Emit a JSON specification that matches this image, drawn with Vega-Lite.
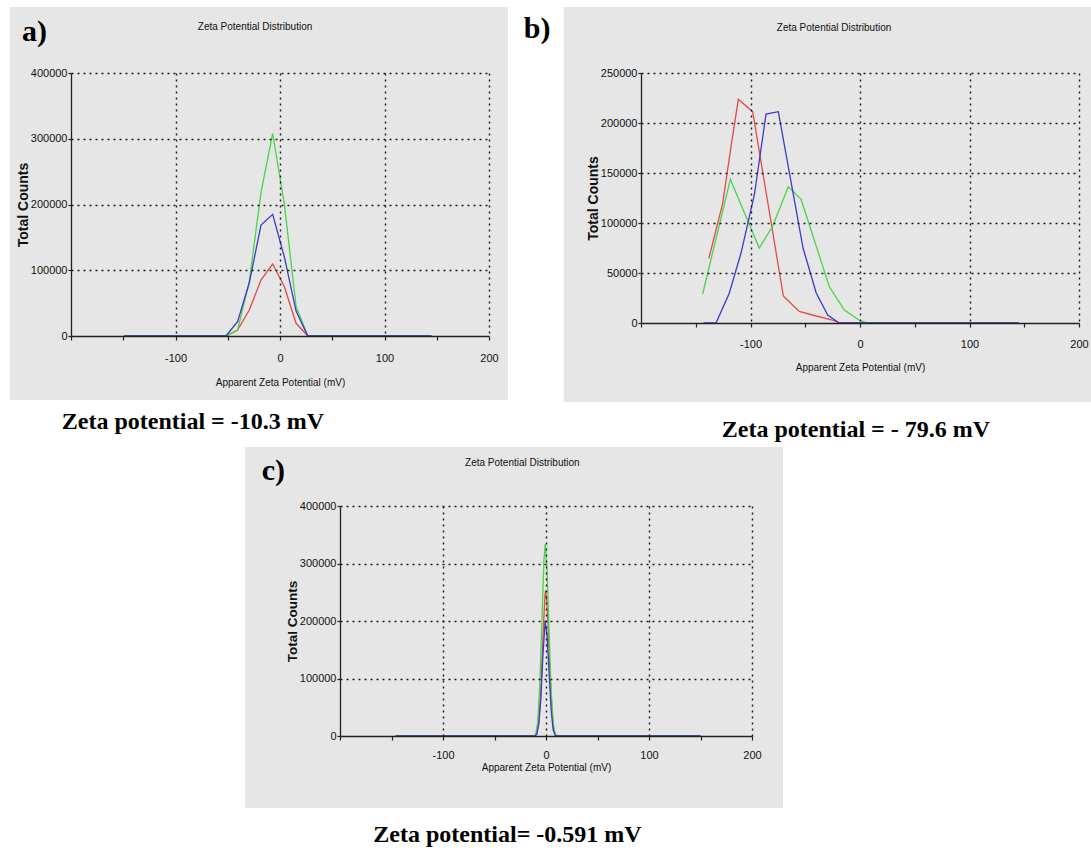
{
  "$schema": "https://vega.github.io/schema/vega-lite/v6.json",
  "background": "white",
  "padding": {"left": 9, "top": 7, "right": 0, "bottom": 0},
  "autosize": {"type": "pad"},
  "config": {
    "view": {"stroke": null},
    "axis": {
      "grid": true, "gridColor": "#1a1a1a", "gridDash": [2, 4], "gridWidth": 1.4,
      "domainColor": "#222", "domainWidth": 1.3, "tickColor": "#222", "tickWidth": 1.2,
      "labelFont": "Liberation Sans, Arial, sans-serif", "labelFontSize": 11, "labelColor": "#111",
      "titleFont": "Liberation Sans, Arial, sans-serif", "titleFontSize": 10, "titleFontWeight": "normal", "titleColor": "#111",
      "labelFlush": false, "labelOverlap": false, "zindex": 1
    },
    "axisY": {"titleFont": "Liberation Sans, Arial, sans-serif", "titleFontWeight": "bold", "titleFontSize": 14}
  },
  "datasets": {
    "a": [
      {"run": "Record 1", "mV": -149, "counts": 0}, {"run": "Record 1", "mV": -51.8, "counts": 0}, {"run": "Record 1", "mV": -40.6, "counts": 9000}, {"run": "Record 1", "mV": -29.4, "counts": 39500}, {"run": "Record 1", "mV": -18.2, "counts": 85000}, {"run": "Record 1", "mV": -7, "counts": 109500}, {"run": "Record 1", "mV": 4.2, "counts": 75000}, {"run": "Record 1", "mV": 15.4, "counts": 19300}, {"run": "Record 1", "mV": 26.6, "counts": 0}, {"run": "Record 1", "mV": 145, "counts": 0},
      {"run": "Record 2", "mV": -149, "counts": 0}, {"run": "Record 2", "mV": -51.8, "counts": 0}, {"run": "Record 2", "mV": -40.6, "counts": 9000}, {"run": "Record 2", "mV": -29.4, "counts": 83000}, {"run": "Record 2", "mV": -18.2, "counts": 218000}, {"run": "Record 2", "mV": -7, "counts": 308000}, {"run": "Record 2", "mV": 4.2, "counts": 200000}, {"run": "Record 2", "mV": 15.4, "counts": 45000}, {"run": "Record 2", "mV": 26.6, "counts": 0}, {"run": "Record 2", "mV": 145, "counts": 0},
      {"run": "Record 3", "mV": -149, "counts": 0}, {"run": "Record 3", "mV": -51.8, "counts": 0}, {"run": "Record 3", "mV": -40.6, "counts": 21800}, {"run": "Record 3", "mV": -29.4, "counts": 80600}, {"run": "Record 3", "mV": -18.2, "counts": 168800}, {"run": "Record 3", "mV": -7, "counts": 185000}, {"run": "Record 3", "mV": 4.2, "counts": 120000}, {"run": "Record 3", "mV": 15.4, "counts": 38000}, {"run": "Record 3", "mV": 26.6, "counts": 0}, {"run": "Record 3", "mV": 145, "counts": 0}
    ],
    "b": [
      {"run": "Record 1", "mV": -138, "counts": 64700}, {"run": "Record 1", "mV": -125.4, "counts": 119700}, {"run": "Record 1", "mV": -117.8, "counts": 176300}, {"run": "Record 1", "mV": -111.1, "counts": 223700}, {"run": "Record 1", "mV": -98, "counts": 211300}, {"run": "Record 1", "mV": -70, "counts": 27000}, {"run": "Record 1", "mV": -55.5, "counts": 11500}, {"run": "Record 1", "mV": -41.7, "counts": 7500}, {"run": "Record 1", "mV": -27, "counts": 3500}, {"run": "Record 1", "mV": -18, "counts": 0}, {"run": "Record 1", "mV": 145, "counts": 0},
      {"run": "Record 2", "mV": -143.7, "counts": 29000}, {"run": "Record 2", "mV": -118.4, "counts": 143700}, {"run": "Record 2", "mV": -92, "counts": 75000}, {"run": "Record 2", "mV": -79.7, "counts": 97000}, {"run": "Record 2", "mV": -65.5, "counts": 136300}, {"run": "Record 2", "mV": -53.9, "counts": 124000}, {"run": "Record 2", "mV": -28, "counts": 36300}, {"run": "Record 2", "mV": -14.3, "counts": 13000}, {"run": "Record 2", "mV": -1, "counts": 3000}, {"run": "Record 2", "mV": 7, "counts": 0}, {"run": "Record 2", "mV": 145, "counts": 0},
      {"run": "Record 3", "mV": -143, "counts": 0}, {"run": "Record 3", "mV": -131.5, "counts": 0}, {"run": "Record 3", "mV": -119.4, "counts": 29700}, {"run": "Record 3", "mV": -108.7, "counts": 69700}, {"run": "Record 3", "mV": -96.5, "counts": 128000}, {"run": "Record 3", "mV": -85.8, "counts": 209000}, {"run": "Record 3", "mV": -74.6, "counts": 211300}, {"run": "Record 3", "mV": -52, "counts": 75000}, {"run": "Record 3", "mV": -40, "counts": 30000}, {"run": "Record 3", "mV": -29.5, "counts": 8000}, {"run": "Record 3", "mV": -19, "counts": 0}, {"run": "Record 3", "mV": 145, "counts": 0}
    ],
    "c": [
      {"run": "Record 1", "mV": -146, "counts": 0}, {"run": "Record 1", "mV": -11, "counts": 0}, {"run": "Record 1", "mV": -9, "counts": 4000}, {"run": "Record 1", "mV": -7, "counts": 25000}, {"run": "Record 1", "mV": -5, "counts": 80000}, {"run": "Record 1", "mV": -3, "counts": 170000}, {"run": "Record 1", "mV": -1, "counts": 245000}, {"run": "Record 1", "mV": -0.5, "counts": 253000}, {"run": "Record 1", "mV": 1, "counts": 230000}, {"run": "Record 1", "mV": 3, "counts": 150000}, {"run": "Record 1", "mV": 5, "counts": 65000}, {"run": "Record 1", "mV": 7, "counts": 18000}, {"run": "Record 1", "mV": 9, "counts": 2000}, {"run": "Record 1", "mV": 11, "counts": 0}, {"run": "Record 1", "mV": 150, "counts": 0},
      {"run": "Record 2", "mV": -146, "counts": 0}, {"run": "Record 2", "mV": -12, "counts": 0}, {"run": "Record 2", "mV": -10, "counts": 2000}, {"run": "Record 2", "mV": -8, "counts": 25000}, {"run": "Record 2", "mV": -6, "counts": 90000}, {"run": "Record 2", "mV": -4, "counts": 200000}, {"run": "Record 2", "mV": -2, "counts": 305000}, {"run": "Record 2", "mV": -0.7, "counts": 334000}, {"run": "Record 2", "mV": 1, "counts": 290000}, {"run": "Record 2", "mV": 3, "counts": 180000}, {"run": "Record 2", "mV": 5, "counts": 80000}, {"run": "Record 2", "mV": 7, "counts": 22000}, {"run": "Record 2", "mV": 9, "counts": 3000}, {"run": "Record 2", "mV": 11, "counts": 0}, {"run": "Record 2", "mV": 150, "counts": 0},
      {"run": "Record 3", "mV": -146, "counts": 0}, {"run": "Record 3", "mV": -11, "counts": 0}, {"run": "Record 3", "mV": -9, "counts": 3000}, {"run": "Record 3", "mV": -7, "counts": 20000}, {"run": "Record 3", "mV": -5, "counts": 65000}, {"run": "Record 3", "mV": -3, "counts": 140000}, {"run": "Record 3", "mV": -1, "counts": 195000}, {"run": "Record 3", "mV": -0.8, "counts": 198000}, {"run": "Record 3", "mV": 1, "counts": 175000}, {"run": "Record 3", "mV": 3, "counts": 110000}, {"run": "Record 3", "mV": 5, "counts": 45000}, {"run": "Record 3", "mV": 7, "counts": 10000}, {"run": "Record 3", "mV": 9, "counts": 1000}, {"run": "Record 3", "mV": 11, "counts": 0}, {"run": "Record 3", "mV": 150, "counts": 0}
    ]
  },
  "vconcat": [
    {
      "hconcat": [
        {
          "width": 418, "height": 263,
          "layer": [
            {"data": {"values": [{}]}, "mark": {"type": "rect", "color": "#e6e6e6"},
             "encoding": {"x": {"datum": -258.4, "type": "quantitative", "scale": {"domain": [-200, 200], "nice": false, "zero": false}}, "x2": {"datum": 218.2}, "y": {"datum": 500376, "type": "quantitative", "scale": {"domain": [0, 400000], "nice": false}}, "y2": {"datum": -97340}}},
            {"data": {"name": "a"}, "mark": {"type": "line", "strokeWidth": 1.3},
             "encoding": {
               "x": {"field": "mV", "type": "quantitative", "scale": {"domain": [-200, 200], "nice": false, "zero": false},
                     "axis": {"zindex": 2, "values": [-200, -150, -100, -50, 0, 50, 100, 150, 200], "labelExpr": "(datum.value % 100 === 0 && datum.value > -200) ? toString(datum.value) : ''", "gridOpacity": {"condition": {"test": "datum.value % 100 === 0 && datum.value > -200", "value": 1}, "value": 0}, "title": "Apparent Zeta Potential (mV)", "tickSize": 4, "labelPadding": 12, "titlePadding": 14}},
               "y": {"field": "counts", "type": "quantitative", "scale": {"domain": [0, 400000], "nice": false},
                     "axis": {"zindex": 2, "values": [0, 50000, 100000, 150000, 200000, 250000, 300000, 350000, 400000], "format": "d", "labelExpr": "datum.value % 100000 === 0 ? datum.label : ''", "gridOpacity": {"condition": {"test": "datum.value % 100000 === 0 && datum.value > 0", "value": 1}, "value": 0}, "title": "Total Counts", "tickSize": 3, "labelPadding": 1, "titlePadding": 0}},
               "color": {"field": "run", "type": "nominal", "scale": {"domain": ["Record 1", "Record 2", "Record 3"], "range": ["#e04a4a", "#49d449", "#3a3acb"]}, "legend": null}
             }},
            {"data": {"values": [{}]}, "mark": {"type": "text", "text": "a)", "font": "Liberation Serif", "fontSize": 30, "fontWeight": "bold", "align": "left", "baseline": "alphabetic", "color": "#000"},
             "encoding": {"x": {"datum": -246.9, "type": "quantitative"}, "y": {"datum": 448700, "type": "quantitative"}}},
            {"data": {"values": [{}]}, "mark": {"type": "text", "text": "Zeta Potential Distribution", "font": "Liberation Sans, Arial, sans-serif", "fontSize": 10, "align": "center", "baseline": "middle", "color": "#111"},
             "encoding": {"x": {"datum": -23.9, "type": "quantitative"}, "y": {"datum": 470400, "type": "quantitative"}}},
            {"data": {"values": [{}]}, "mark": {"type": "text", "text": "Zeta potential = -10.3 mV", "font": "Liberation Serif", "fontSize": 24, "fontWeight": "bold", "align": "center", "baseline": "middle", "color": "#000"},
             "encoding": {"x": {"datum": -83.3, "type": "quantitative"}, "y": {"datum": -130800, "type": "quantitative"}}}
          ]
        },
        {
          "width": 438, "height": 250,
          "layer": [
            {"data": {"values": [{}]}, "mark": {"type": "rect", "color": "#e6e6e6"},
             "encoding": {"x": {"datum": -270.6, "type": "quantitative", "scale": {"domain": [-200, 200], "nice": false, "zero": false}}, "x2": {"datum": 211.9}, "y": {"datum": 316000, "type": "quantitative", "scale": {"domain": [0, 250000], "nice": false}}, "y2": {"datum": -79000}}},
            {"data": {"name": "b"}, "mark": {"type": "line", "strokeWidth": 1.3},
             "encoding": {
               "x": {"field": "mV", "type": "quantitative", "scale": {"domain": [-200, 200], "nice": false, "zero": false},
                     "axis": {"zindex": 2, "values": [-200, -150, -100, -50, 0, 50, 100, 150, 200], "labelExpr": "(datum.value % 100 === 0 && datum.value > -200) ? toString(datum.value) : ''", "gridOpacity": {"condition": {"test": "datum.value % 100 === 0 && datum.value > -200", "value": 1}, "value": 0}, "title": "Apparent Zeta Potential (mV)", "tickSize": 4, "labelPadding": 11, "titlePadding": 13}},
               "y": {"field": "counts", "type": "quantitative", "scale": {"domain": [0, 250000], "nice": false},
                     "axis": {"zindex": 2, "values": [0, 25000, 50000, 75000, 100000, 125000, 150000, 175000, 200000, 225000, 250000], "format": "d", "labelExpr": "datum.value % 50000 === 0 ? datum.label : ''", "gridOpacity": {"condition": {"test": "datum.value % 50000 === 0 && datum.value > 0", "value": 1}, "value": 0}, "title": "Total Counts", "tickSize": 3, "labelPadding": 1, "titlePadding": 0}},
               "color": {"field": "run", "type": "nominal", "scale": {"domain": ["Record 1", "Record 2", "Record 3"], "range": ["#e04a4a", "#49d449", "#3a3acb"]}, "legend": null}
             }},
            {"data": {"values": [{}]}, "mark": {"type": "text", "text": "b)", "font": "Liberation Serif", "fontSize": 30, "fontWeight": "bold", "align": "left", "baseline": "alphabetic", "color": "#000"},
             "encoding": {"x": {"datum": -307.1, "type": "quantitative"}, "y": {"datum": 285000, "type": "quantitative"}}},
            {"data": {"values": [{}]}, "mark": {"type": "text", "text": "Zeta Potential Distribution", "font": "Liberation Sans, Arial, sans-serif", "fontSize": 10, "align": "center", "baseline": "middle", "color": "#111"},
             "encoding": {"x": {"datum": -23.7, "type": "quantitative"}, "y": {"datum": 294700, "type": "quantitative"}}},
            {"data": {"values": [{}]}, "mark": {"type": "text", "text": "Zeta potential = - 79.6 mV", "font": "Liberation Serif", "fontSize": 24, "fontWeight": "bold", "align": "center", "baseline": "middle", "color": "#000"},
             "encoding": {"x": {"datum": -3.7, "type": "quantitative"}, "y": {"datum": -107000, "type": "quantitative"}}}
          ]
        }
      ],
      "spacing": 152,
      "bounds": "flush"
    },
    {
      "hconcat": [
        {"width": 269, "height": 20, "data": {"values": [{}]}, "mark": {"type": "point", "opacity": 0}, "encoding": {}},
        {
          "width": 412, "height": 230,
          "layer": [
            {"data": {"values": [{}]}, "mark": {"type": "rect", "color": "#e6e6e6"},
             "encoding": {"x": {"datum": -292.2, "type": "quantitative", "scale": {"domain": [-200, 200], "nice": false, "zero": false}}, "x2": {"datum": 230.1}, "y": {"datum": 502600, "type": "quantitative", "scale": {"domain": [0, 400000], "nice": false}}, "y2": {"datum": -125200}}},
            {"data": {"name": "c"}, "mark": {"type": "line", "strokeWidth": 1.3},
             "encoding": {
               "x": {"field": "mV", "type": "quantitative", "scale": {"domain": [-200, 200], "nice": false, "zero": false},
                     "axis": {"zindex": 2, "values": [-200, -150, -100, -50, 0, 50, 100, 150, 200], "labelExpr": "(datum.value % 100 === 0 && datum.value > -200) ? toString(datum.value) : ''", "gridOpacity": {"condition": {"test": "datum.value % 100 === 0 && datum.value > -200", "value": 1}, "value": 0}, "title": "Apparent Zeta Potential (mV)", "tickSize": 4, "labelPadding": 9, "titlePadding": 2}},
               "y": {"field": "counts", "type": "quantitative", "scale": {"domain": [0, 400000], "nice": false},
                     "axis": {"zindex": 2, "values": [0, 50000, 100000, 150000, 200000, 250000, 300000, 350000, 400000], "format": "d", "labelExpr": "datum.value % 100000 === 0 ? datum.label : ''", "gridOpacity": {"condition": {"test": "datum.value % 100000 === 0 && datum.value > 0", "value": 1}, "value": 0}, "title": "Total Counts", "titleFontSize": 13.5, "tickSize": 3, "labelPadding": 1, "titlePadding": 0}},
               "color": {"field": "run", "type": "nominal", "scale": {"domain": ["Record 1", "Record 2", "Record 3"], "range": ["#e04a4a", "#49d449", "#3a3acb"]}, "legend": null}
             }},
            {"data": {"values": [{}]}, "mark": {"type": "text", "text": "c)", "font": "Liberation Serif", "fontSize": 30, "fontWeight": "bold", "align": "left", "baseline": "alphabetic", "color": "#000"},
             "encoding": {"x": {"datum": -276, "type": "quantitative"}, "y": {"datum": 445200, "type": "quantitative"}}},
            {"data": {"values": [{}]}, "mark": {"type": "text", "text": "Zeta Potential Distribution", "font": "Liberation Sans, Arial, sans-serif", "fontSize": 10, "align": "center", "baseline": "middle", "color": "#111"},
             "encoding": {"x": {"datum": -23, "type": "quantitative"}, "y": {"datum": 474300, "type": "quantitative"}}},
            {"data": {"values": [{}]}, "mark": {"type": "text", "text": "Zeta potential= -0.591 mV", "font": "Liberation Serif", "fontSize": 24, "fontWeight": "bold", "align": "center", "baseline": "middle", "color": "#000"},
             "encoding": {"x": {"datum": -37.4, "type": "quantitative"}, "y": {"datum": -172200, "type": "quantitative"}}}
          ]
        }
      ],
      "spacing": 0,
      "bounds": "flush"
    }
  ],
  "spacing": 433,
  "bounds": "flush"
}
